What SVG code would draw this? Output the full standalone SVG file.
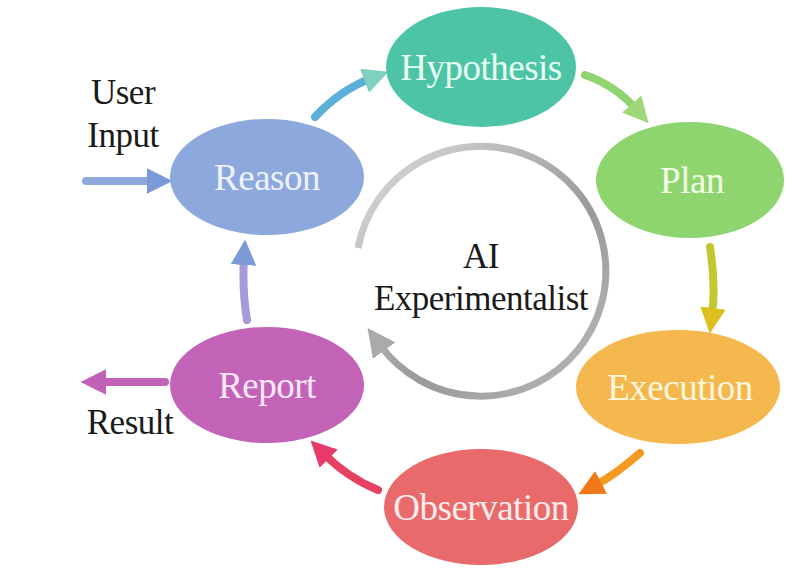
<svg xmlns="http://www.w3.org/2000/svg" width="797" height="568" viewBox="0 0 797 568">
<style>
.lbl{font-family:"Liberation Serif",serif;font-size:37px;text-anchor:middle;dominant-baseline:central;letter-spacing:-0.5px}
.side{font-family:"Liberation Serif",serif;font-size:35px;fill:#1a1a1a;text-anchor:middle;letter-spacing:-0.5px}
.c{fill:none;stroke-width:8;stroke-linecap:round}
</style>
<defs>
<linearGradient id="gRing" x1="0" y1="0" x2="1" y2="1"><stop offset="0" stop-color="#ddd"/><stop offset="0.6" stop-color="#999"/><stop offset="1" stop-color="#bbb"/></linearGradient>
<marker id="mT" markerWidth="3.2" markerHeight="3.2" refX="1" refY="1.6" orient="auto"><path d="M0,0L3.2,1.6L0,3.2z" fill="#7fd0c0"/></marker>
<marker id="mG" markerWidth="3.2" markerHeight="3.2" refX="1" refY="1.6" orient="auto"><path d="M0,0L3.2,1.6L0,3.2z" fill="#9ed878"/></marker>
<marker id="mY" markerWidth="3.2" markerHeight="3.2" refX="1" refY="1.6" orient="auto"><path d="M0,0L3.2,1.6L0,3.2z" fill="#dcc020"/></marker>
<marker id="mO" markerWidth="3.2" markerHeight="3.2" refX="1" refY="1.6" orient="auto"><path d="M0,0L3.2,1.6L0,3.2z" fill="#f07818"/></marker>
<marker id="mR" markerWidth="3.2" markerHeight="3.2" refX="1" refY="1.6" orient="auto"><path d="M0,0L3.2,1.6L0,3.2z" fill="#e83a6a"/></marker>
<marker id="mB" markerWidth="3.2" markerHeight="3.2" refX="1" refY="1.6" orient="auto"><path d="M0,0L3.2,1.6L0,3.2z" fill="#7a9ad8"/></marker>
<marker id="mP" markerWidth="3.2" markerHeight="3.2" refX="1" refY="1.6" orient="auto"><path d="M0,0L3.2,1.6L0,3.2z" fill="#c062b8"/></marker>
<marker id="mGr" markerWidth="4" markerHeight="4" refX="1" refY="2" orient="auto"><path d="M0,0L4,2L0,4z" fill="#aaa"/></marker>
</defs>
<g id="connectors">
<path class="c" d="M315,117 Q340,90 372,78" stroke="#5ab0d8" marker-end="url(#mT)"/>
<path class="c" d="M585,75 Q615,85 637,110" stroke="#8ed46f" marker-end="url(#mG)"/>
<path class="c" d="M710,247 Q716,285 712,316" stroke="#c4c830" marker-end="url(#mY)"/>
<path class="c" d="M640,453 Q615,475 594,486" stroke="#f59a20" marker-end="url(#mO)"/>
<path class="c" d="M378,490 Q348,478 323,453" stroke="#e84060" marker-end="url(#mR)"/>
<path class="c" d="M247,320 Q242,290 244,257" stroke="#a79ad8" marker-end="url(#mB)"/>
<path class="c" d="M86,181 L155,181" stroke="#8ca8dc" marker-end="url(#mB)"/>
<path class="c" d="M165,382 L98,382" stroke="#c263b8" marker-end="url(#mP)"/>
<path d="M358,248 A125,125 0 1 1 380,345" fill="none" stroke="url(#gRing)" stroke-width="7" marker-end="url(#mGr)"/>
</g>
<g id="hypothesis"><ellipse cx="481" cy="67" rx="95" ry="60" fill="#4dc4a6"/><text class="lbl" x="481" y="67" fill="#e8fff4">Hypothesis</text></g>
<g id="plan"><ellipse cx="690" cy="180" rx="94" ry="58" fill="#8ed46f"/><text class="lbl" x="692" y="180" fill="#f4ffe8">Plan</text></g>
<g id="execution"><ellipse cx="678" cy="387" rx="102" ry="57" fill="#f5b84f"/><text class="lbl" x="680" y="387" fill="#fff6dc">Execution</text></g>
<g id="observation"><ellipse cx="481" cy="507" rx="97" ry="58" fill="#e86a6a"/><text class="lbl" x="481" y="507" fill="#ffecec">Observation</text></g>
<g id="report"><ellipse cx="267" cy="385" rx="97" ry="58" fill="#c263b8"/><text class="lbl" x="267" y="385" fill="#fbe8f8">Report</text></g>
<g id="reason"><ellipse cx="267" cy="177" rx="97" ry="58" fill="#8ca8dc"/><text class="lbl" x="267" y="177" fill="#eef2ff">Reason</text></g>
<g id="center"><text class="side" x="481" y="268">AI</text><text class="side" x="481" y="310">Experimentalist</text></g>
<g id="labels"><text class="side" x="123" y="104">User</text><text class="side" x="123" y="147">Input</text><text class="side" x="130" y="434">Result</text></g>
</svg>
